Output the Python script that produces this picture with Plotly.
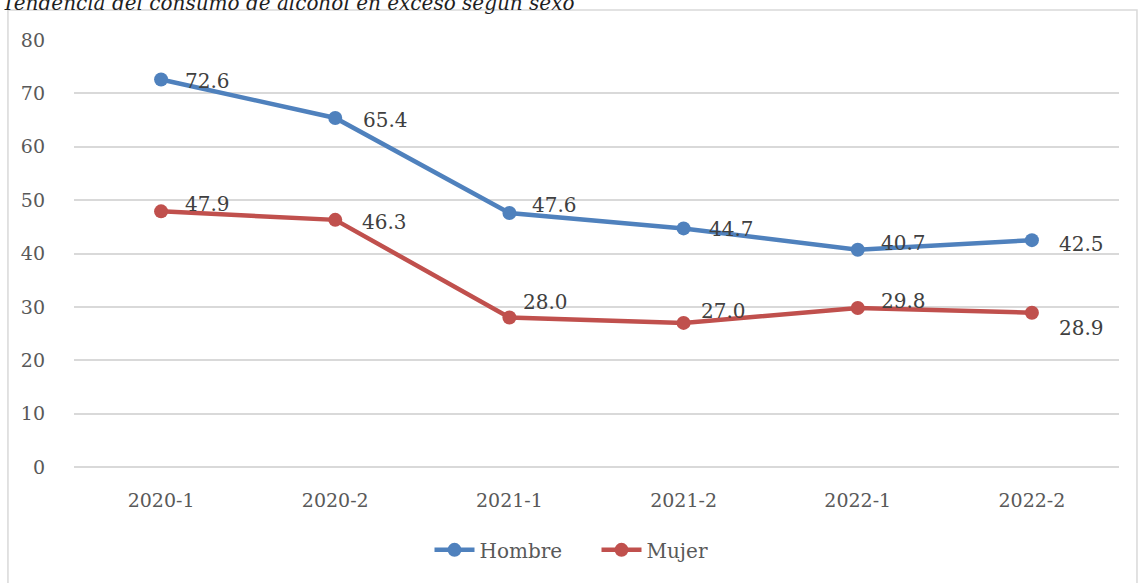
import plotly.graph_objects as go

FONT = 'DejaVu Serif'
BLUE = '#4F81BD'
RED = '#C0504D'

periods = ['2020-1', '2020-2', '2021-1', '2021-2', '2022-1', '2022-2']
hombre = [72.6, 65.4, 47.6, 44.7, 40.7, 42.5]
mujer = [47.9, 46.3, 28.0, 27.0, 29.8, 28.9]

# label offsets in px (x, y) so the labels sit like in the original
hombre_shift = [(22, -1), (26, -2), (21, 8), (23, -1), (21, 7), (25, -4)]
mujer_shift = [(22, 7), (25, -2), (12, 16), (15, 12), (21, 7), (25, -15)]

fig = go.Figure()
for name, vals, color in [('Hombre', hombre, BLUE), ('Mujer', mujer, RED)]:
    fig.add_trace(go.Scatter(
        x=periods, y=vals, name=name, mode='lines+markers',
        line=dict(color=color, width=4.5),
        marker=dict(color=color, size=14),
    ))

for vals, shifts in [(hombre, hombre_shift), (mujer, mujer_shift)]:
    for p, v, (dx, dy) in zip(periods, vals, shifts):
        fig.add_annotation(
            x=p, y=v, text=f'{v:.1f}', showarrow=False,
            xanchor='left', yanchor='middle', xshift=dx, yshift=dy,
            font=dict(family=FONT, size=20, color='#404040'),
        )

# title, clipped at the top like in the source
fig.add_annotation(
    x=-0.0708, y=1.0866, xref='paper', yref='paper',
    text='<i>Tendencia del consumo de alcohol en exceso según sexo</i>',
    showarrow=False, xanchor='left', yanchor='middle',
    font=dict(family=FONT, size=20, color='#1F1F1F'),
)

# chart border
fig.add_shape(
    type='rect', xref='paper', yref='paper',
    x0=-0.0632, x1=1.0172, y0=-0.30, y1=1.0703,
    line=dict(color='#D9D9D9', width=1.5), fillcolor='rgba(0,0,0,0)',
    layer='below',
)

fig.update_layout(
    width=1138, height=583,
    margin=dict(l=74, r=19, t=40, b=116),
    paper_bgcolor='white', plot_bgcolor='white',
    font=dict(family=FONT, size=19, color='#595959'),
    showlegend=True,
    legend=dict(
        orientation='h', x=0.50, y=-0.194, xanchor='center', yanchor='middle',
        font=dict(family=FONT, size=20, color='#595959'),
        itemwidth=40, entrywidth=112, entrywidthmode='pixels',
    ),
    xaxis=dict(
        type='category',
        showgrid=False, showline=False, zeroline=False,
        ticks='', ticklabelstandoff=20,
        tickfont=dict(family=FONT, size=19, color='#595959'),
        range=[-0.5, 5.5],
    ),
    yaxis=dict(
        range=[0, 80], dtick=10, showgrid=True, gridcolor='#D9D9D9', gridwidth=1.5,
        zeroline=True, zerolinecolor='#D9D9D9', zerolinewidth=1.5,
        showline=False, ticks='', ticklabelstandoff=28,
        tickfont=dict(family=FONT, size=19, color='#595959'),
    ),
)

fig.write_html('out.html', config={'displayModeBar': False},
               post_script="document.body.style.margin = '0';")
